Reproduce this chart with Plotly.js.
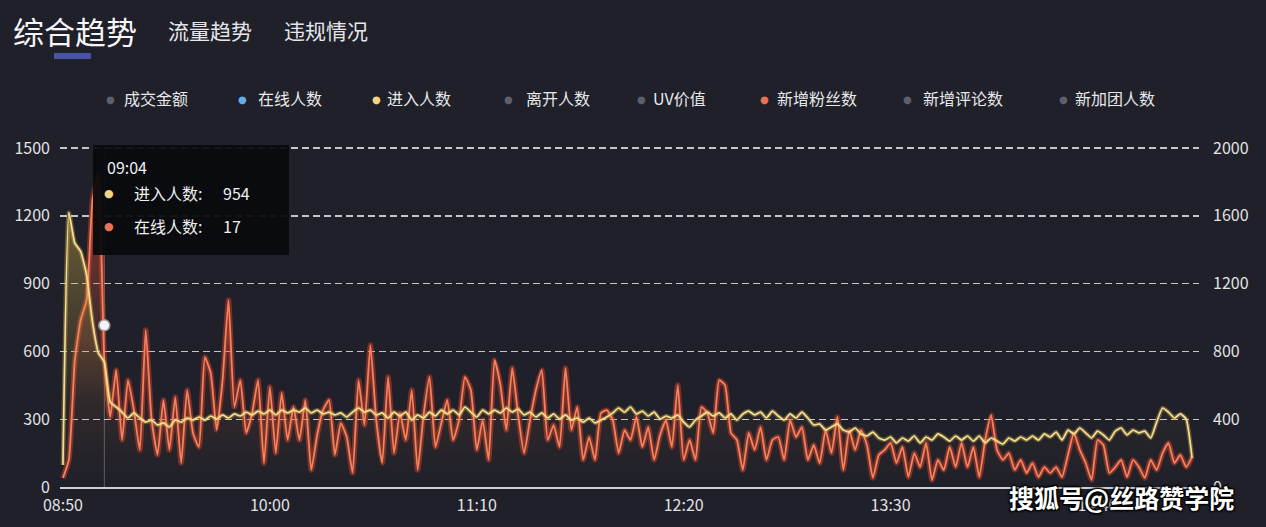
<!DOCTYPE html>
<html>
<head>
<meta charset="utf-8">
<script src="https://cdn.plot.ly/plotly-3.0.1.min.js"></script>
<style>
html,body{margin:0;padding:0;background:#1f2029;}
#chart{width:1266px;height:527px;}
</style>
</head>
<body>
<div id="chart"></div>
<script>
// ---------- data ----------
const DAY = '2023-01-01';
const times = [
'08:50','08:52','08:54','08:56','08:58',
'09:00','09:02','09:04','09:06','09:08','09:10','09:12','09:14','09:16','09:18','09:20','09:22','09:24','09:26','09:28','09:30','09:32','09:34','09:36','09:38','09:40','09:42','09:44','09:46','09:48','09:50','09:52','09:54','09:56','09:58',
'10:00','10:02','10:04','10:06','10:08','10:10','10:12','10:14','10:16','10:18','10:20','10:22','10:24','10:26','10:28','10:30','10:32','10:34','10:36','10:38','10:40','10:42','10:44','10:46','10:48','10:50','10:52','10:54','10:56','10:58',
'11:00','11:02','11:04','11:06','11:08','11:10','11:12','11:14','11:16','11:18','11:20','11:22','11:24','11:26','11:28','11:30','11:32','11:34','11:36','11:38','11:40','11:42','11:44','11:46','11:48','11:50','11:52','11:54','11:56','11:58',
'12:00','12:02','12:04','12:06','12:08','12:10','12:12','12:14','12:16','12:18','12:20','12:22','12:24','12:26','12:28','12:30','12:32','12:34','12:36','12:38','12:40','12:42','12:44','12:46','12:48','12:50','12:52','12:54','12:56','12:58',
'13:00','13:02','13:04','13:06','13:08','13:10','13:12','13:14','13:16','13:18','13:20','13:22','13:24','13:26','13:28','13:30','13:32','13:34','13:36','13:38','13:40','13:42','13:44','13:46','13:48','13:50','13:52','13:54','13:56','13:58',
'14:00','14:02','14:04','14:06','14:08','14:10','14:12','14:14','14:16','14:18','14:20','14:22','14:24','14:26','14:28','14:30','14:32','14:34','14:36','14:38','14:40','14:42','14:44','14:46','14:48','14:50','14:52','14:54','14:56','14:58',
'15:00','15:02','15:04','15:06','15:08','15:10','15:12'
];

// 新增粉丝数 (left axis)
const fansNew = [
40,120,560,740,827,1270,1380,560,310,518,
208,473,340,164,695,296,142,385,164,398,
106,429,239,177,575,504,252,473,827,354,
473,239,327,473,106,442,150,416,208,354,
208,385,75,230,340,385,142,283,221,62,
473,274,628,296,106,487,150,327,208,429,
75,318,487,177,283,385,208,296,487,429,
164,296,120,562,451,252,527,318,150,296,
429,518,208,274,177,527,252,354,120,221,
120,327,340,296,150,252,208,310,177,265,
120,230,296,177,451,120,208,120,354,327,
239,473,451,239,208,75,239,164,265,120,
208,221,120,296,221,265,120,186,106,252,
150,310,75,252,164,252,186,40,142,164,
195,106,177,44,150,88,195,31,120,75,
177,88,195,88,177,44,208,318,164,120,
150,75,120,62,106,44,88,62,88,44,
142,239,164,106,31,208,186,62,88,120,
44,120,88,40,120,75,150,195,106,142,
88,133
];

// 进入人数 (right axis)
const visitorsIn = [
130,1620,1440,1390,1251,973,791,737,501,472,
442,407,437,407,383,395,366,378,354,395,
383,407,395,413,395,419,401,425,407,431,
419,442,425,448,431,454,425,454,437,454,
442,466,437,454,431,442,425,437,413,442,
466,442,454,425,437,407,442,419,442,395,
425,407,442,419,454,431,454,425,472,442,
413,454,431,454,437,466,442,460,425,442,
413,437,407,431,401,425,395,407,383,407,
378,395,413,437,466,442,472,431,448,419,
442,401,419,407,425,383,354,395,419,442,
419,437,407,431,395,431,448,425,442,407,
448,419,395,431,407,442,407,366,372,336,
354,372,336,324,348,313,301,324,289,277,
295,260,289,271,301,260,295,277,313,295,
271,301,277,301,271,301,260,289,271,254,
289,271,295,277,301,277,313,295,324,277,
336,313,348,319,289,330,307,277,330,348,
307,336,319,330,289,383,466,442,407,431,
401,171
];

const xTickLabels = ['08:50','10:00','11:10','12:20','13:30','14:40'];
const leftTicks = [0,300,600,900,1200,1500];
const rightTicks = [0,400,800,1200,1600,2000];

const tabs = ['综合趋势','流量趋势','违规情况'];
const legendNames = ['成交金额','在线人数','进入人数','离开人数','UV价值','新增粉丝数','新增评论数','新加团人数'];
const legendColors = ['#5d606c','#62aee8','#f3d67f','#5d606c','#5d606c','#e8714f','#5d606c','#5d606c'];

const tooltipTime = '09:04';
const tooltipNames = ['进入人数','在线人数'];
const tooltipValues = [954, 17];
const tooltipColors = ['#f3d67f','#e8735a'];

const watermark = '搜狐号@丝路赞学院';

// ---------- layout helpers (pixel -> paper) ----------
// plot area: 0 at y=487, 1500 (left) / 2000 (right) at y=148; a few px of headroom above the top grid line
const L = 60, R = 1199, T = 144, B = 487, TOPGRID = 148;
const W = R - L, H = B - T;
const headroom = (B - T) / (B - TOPGRID);
const px = x => (x - L) / W;
const py = y => (B - y) / H;
const FONT = 'Noto Sans CJK SC, Noto Sans, sans-serif';

const xs = times.map(t => DAY + ' ' + t);

const traces = [
  { // orange glow + fill
    x: xs, y: fansNew, yaxis: 'y', type: 'scatter', mode: 'lines',
    line: {color: 'rgba(240,72,42,0.42)', width: 5.5, shape: 'spline', smoothing: 0.45},
    fill: 'tozeroy',
    fillgradient: {type: 'vertical', start: 0, stop: 1500,
      colorscale: [[0, 'rgba(225,85,55,0)'], [0.25, 'rgba(225,85,55,0.05)'], [1, 'rgba(225,85,55,0.55)']]},
    hoverinfo: 'skip', showlegend: false
  },
  { // orange core
    x: xs, y: fansNew, yaxis: 'y', type: 'scatter', mode: 'lines', name: '新增粉丝数',
    line: {color: '#f5825f', width: 1.8, shape: 'spline', smoothing: 0.45},
    showlegend: false
  },
  { // yellow glow + fill
    x: xs, y: visitorsIn, yaxis: 'y2', type: 'scatter', mode: 'lines',
    line: {color: 'rgba(240,200,90,0.32)', width: 4.5, shape: 'spline', smoothing: 0.45},
    fill: 'tozeroy',
    fillgradient: {type: 'vertical', start: 0, stop: 2000,
      colorscale: [[0, 'rgba(200,165,70,0)'], [0.25, 'rgba(200,165,70,0.05)'], [1, 'rgba(200,165,70,0.6)']]},
    hoverinfo: 'skip', showlegend: false
  },
  { // yellow core
    x: xs, y: visitorsIn, yaxis: 'y2', type: 'scatter', mode: 'lines', name: '进入人数',
    line: {color: '#f6df92', width: 1.7, shape: 'spline', smoothing: 0.45},
    showlegend: false
  },
  { // hover point
    x: [DAY + ' ' + tooltipTime], y: [tooltipValues[0]], yaxis: 'y2', type: 'scatter', mode: 'markers',
    marker: {symbol: 'circle', size: 11, color: '#f4f4f4', line: {color: '#9a9a9a', width: 1.5}},
    hoverinfo: 'skip', showlegend: false
  }
];

const annotations = [];
const shapes = [];

// tabs
const tabX = [11, 166, 282];
const tabSize = [31, 21, 21];
const tabColor = ['#f6f6f8', '#e6e6ea', '#e6e6ea'];
tabs.forEach((t, i) => {
  annotations.push({text: t, xref: 'paper', yref: 'paper', x: px(tabX[i]), y: py(30),
    xanchor: 'left', yanchor: 'middle', showarrow: false,
    font: {family: FONT, size: tabSize[i], color: tabColor[i]}});
});
shapes.push({type: 'rect', xref: 'paper', yref: 'paper', x0: px(54), x1: px(91), y0: py(59), y1: py(53),
  fillcolor: '#4a54a6', line: {width: 0}});

// legend
const legDotX = [110, 242, 376, 508, 641, 764, 908, 1063];
const legTextX = [122, 256, 385, 524, 651, 775, 921, 1073];
legendNames.forEach((n, i) => {
  annotations.push({text: '●', xref: 'paper', yref: 'paper', x: px(legDotX[i]), y: py(99),
    xanchor: 'center', yanchor: 'middle', showarrow: false,
    font: {family: 'DejaVu Sans', size: 10, color: legendColors[i]}});
  annotations.push({text: n, xref: 'paper', yref: 'paper', x: px(legTextX[i]), y: py(98),
    xanchor: 'left', yanchor: 'middle', showarrow: false,
    font: {family: FONT, size: 16, color: '#e8e8ea'}});
});

// hover line
shapes.push({type: 'line', xref: 'x', yref: 'paper', x0: DAY + ' ' + tooltipTime, x1: DAY + ' ' + tooltipTime,
  y0: 0, y1: py(TOPGRID), line: {color: 'rgba(170,170,170,0.45)', width: 1}, layer: 'below'});

// tooltip box
shapes.push({type: 'rect', xref: 'paper', yref: 'paper', x0: px(93), x1: px(289), y0: py(255), y1: py(145),
  fillcolor: 'rgba(9,10,13,0.94)', line: {width: 0}});
annotations.push({text: tooltipTime, xref: 'paper', yref: 'paper', x: px(105), y: py(167),
  xanchor: 'left', yanchor: 'middle', showarrow: false, font: {family: FONT, size: 16, color: '#f0f0f0'}});
const rowY = [193, 226];
tooltipNames.forEach((n, i) => {
  annotations.push({text: '●', xref: 'paper', yref: 'paper', x: px(109), y: py(rowY[i]),
    xanchor: 'center', yanchor: 'middle', showarrow: false,
    font: {family: 'DejaVu Sans', size: 11, color: tooltipColors[i]}});
  annotations.push({text: n + ':', xref: 'paper', yref: 'paper', x: px(132), y: py(rowY[i]),
    xanchor: 'left', yanchor: 'middle', showarrow: false, font: {family: FONT, size: 16, color: '#f0f0f0'}});
  annotations.push({text: String(tooltipValues[i]), xref: 'paper', yref: 'paper', x: px(221), y: py(rowY[i]),
    xanchor: 'left', yanchor: 'middle', showarrow: false, font: {family: FONT, size: 16, color: '#f0f0f0'}});
});

// watermark (covers part of the axis labels, as in the reference)
annotations.push({text: watermark, xref: 'paper', yref: 'paper', x: px(1121), y: py(497),
  xanchor: 'center', yanchor: 'middle', showarrow: false,
  font: {family: FONT, size: 25, color: '#ffffff', weight: 700,
    shadow: '1px 1px 2px #000, -1px -1px 2px #000, 1px -1px 2px #000, -1px 1px 2px #000'}});

const layout = {
  width: 1266, height: 527,
  margin: {l: L, r: 1266 - R, t: T, b: 527 - B, pad: 0},
  paper_bgcolor: '#1f2029', plot_bgcolor: '#1f2029',
  font: {family: FONT, color: '#e2e2e4', size: 16},
  showlegend: false,
  hovermode: false,
  xaxis: {
    type: 'date',
    range: [DAY + ' 08:49:00', DAY + ' 15:14:20'],
    tickmode: 'array', tickvals: xTickLabels.map(t => DAY + ' ' + t), ticktext: xTickLabels,
    showgrid: false, zeroline: false,
    showline: true, linecolor: '#cdced3', linewidth: 2,
    ticks: '', ticklabelstandoff: 3,
    tickfont: {family: FONT, size: 16, color: '#e2e2e4'},
    fixedrange: true
  },
  yaxis: {
    range: [0, 1500 * headroom], tickmode: 'array', tickvals: leftTicks,
    showgrid: true, gridcolor: 'rgba(228,228,230,0.85)', gridwidth: 1.4, griddash: '7px,4px',
    zeroline: false, showline: false, ticks: '', ticklabelstandoff: 9,
    tickfont: {family: FONT, size: 16, color: '#e2e2e4'},
    fixedrange: true
  },
  yaxis2: {
    range: [0, 2000 * headroom], tickmode: 'array', tickvals: rightTicks,
    overlaying: 'y', side: 'right',
    showgrid: false, zeroline: false, showline: false, ticks: '', ticklabelstandoff: 13,
    tickfont: {family: FONT, size: 16, color: '#e2e2e4'},
    fixedrange: true
  },
  annotations: annotations,
  shapes: shapes
};

Plotly.newPlot('chart', traces, layout, {displayModeBar: false, staticPlot: true});
</script>
</body>
</html>
